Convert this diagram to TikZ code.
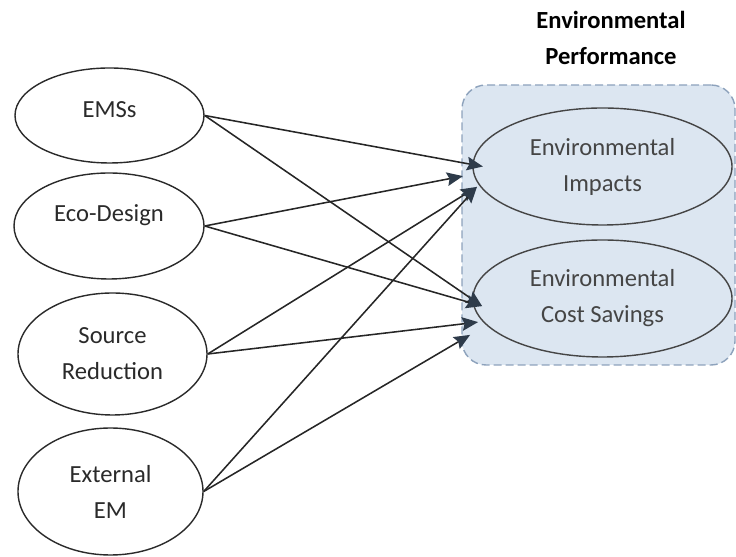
\documentclass[tikz,border=0pt]{standalone}
\usepackage{fontspec}
\setmainfont{Carlito}
\usepackage{xcolor}
\usepackage{tikz}
\usetikzlibrary{arrows.meta, shapes.geometric}
\definecolor{panelblue}{HTML}{DCE6F1}
\definecolor{paneledge}{HTML}{8DA2BC}
\definecolor{inkgray}{HTML}{2A2A2A}
\definecolor{softgray}{HTML}{454545}
\definecolor{headslate}{HTML}{2E3B4A}

\tikzset{
    practice/.style={ellipse, draw=inkgray, line width=1pt, align=center, inner sep=0pt, text=inkgray},
    outcome/.style={ellipse, draw=softgray, line width=1pt, align=center, inner sep=0pt, text=softgray,
        minimum width=6.475cm, minimum height=2.925cm},
    panel/.style={draw=paneledge, fill=panelblue, line width=1pt, dash pattern=on 0.2cm off 0.1cm,
        rounded corners=0.6cm, inner sep=0pt},
    link/.style={-{Stealth[length=0.4cm, width=0.34cm, inset=0.06cm, color=headslate]}, line width=1.1pt, draw=black!85}
}

\begin{document}
\begin{tikzpicture}[font=\fontsize{17.5}{25.6}\selectfont]
    \useasboundingbox (0, 0) rectangle (18.4, 13.925);

    % Group box and its title
    \node[panel, minimum width=6.825cm, minimum height=7cm] (perf) at (14.9625, 8.3) {};
    \node[font=\fontsize{17.5}{25.6}\selectfont\bfseries, align=center] (perftitle) at (15.275, 12.975) {Environmental\\Performance};

    % Left column: practices
    \node[practice, minimum width=4.725cm, minimum height=2.375cm,
          label={[yshift=0.15cm, text=inkgray]center:EMSs}] (ems) at (2.7375, 11.0375) {};
    \node[practice, minimum width=4.75cm, minimum height=2.65cm,
          label={[yshift=0.27cm, text=inkgray]center:Eco-Design}] (eco) at (2.725, 8.275) {};
    \node[practice, minimum width=4.725cm, minimum height=3.05cm] (src) at (2.8125, 5.075) {Source\\Reduction};
    \node[practice, minimum width=4.625cm, minimum height=3.175cm] (ext) at (2.7625, 1.6375) {External\\EM};

    % Right column: outcomes
    \node[outcome] (imp) at (15.0625, 9.7625) {Environmental\\Impacts};
    \node[outcome] (cost) at (15.0625, 6.4625) {Environmental\\Cost Savings};

    % Paths to impacts
    \draw[link] (ems.east) -- ([shift={(-2.99, 0)}]imp.center);
    \draw[link] (eco.east) -- ([shift={(-3.49, -0.24)}]imp.center);
    \draw[link] (src.east) -- ([shift={(-3.14, -0.51)}]imp.center);
    \draw[link] (ext.east) -- ([shift={(-3.14, -0.51)}]imp.center);

    % Paths to cost savings
    \draw[link] (ems.east) -- ([shift={(-3.01, -0.19)}]cost.center);
    \draw[link] (eco.east) -- ([shift={(-3.01, -0.19)}]cost.center);
    \draw[link] (src.east) -- ([shift={(-3.11, -0.59)}]cost.center);
    \draw[link] (ext.east) -- ([shift={(-3.31, -0.91)}]cost.center);
\end{tikzpicture}
\end{document}
